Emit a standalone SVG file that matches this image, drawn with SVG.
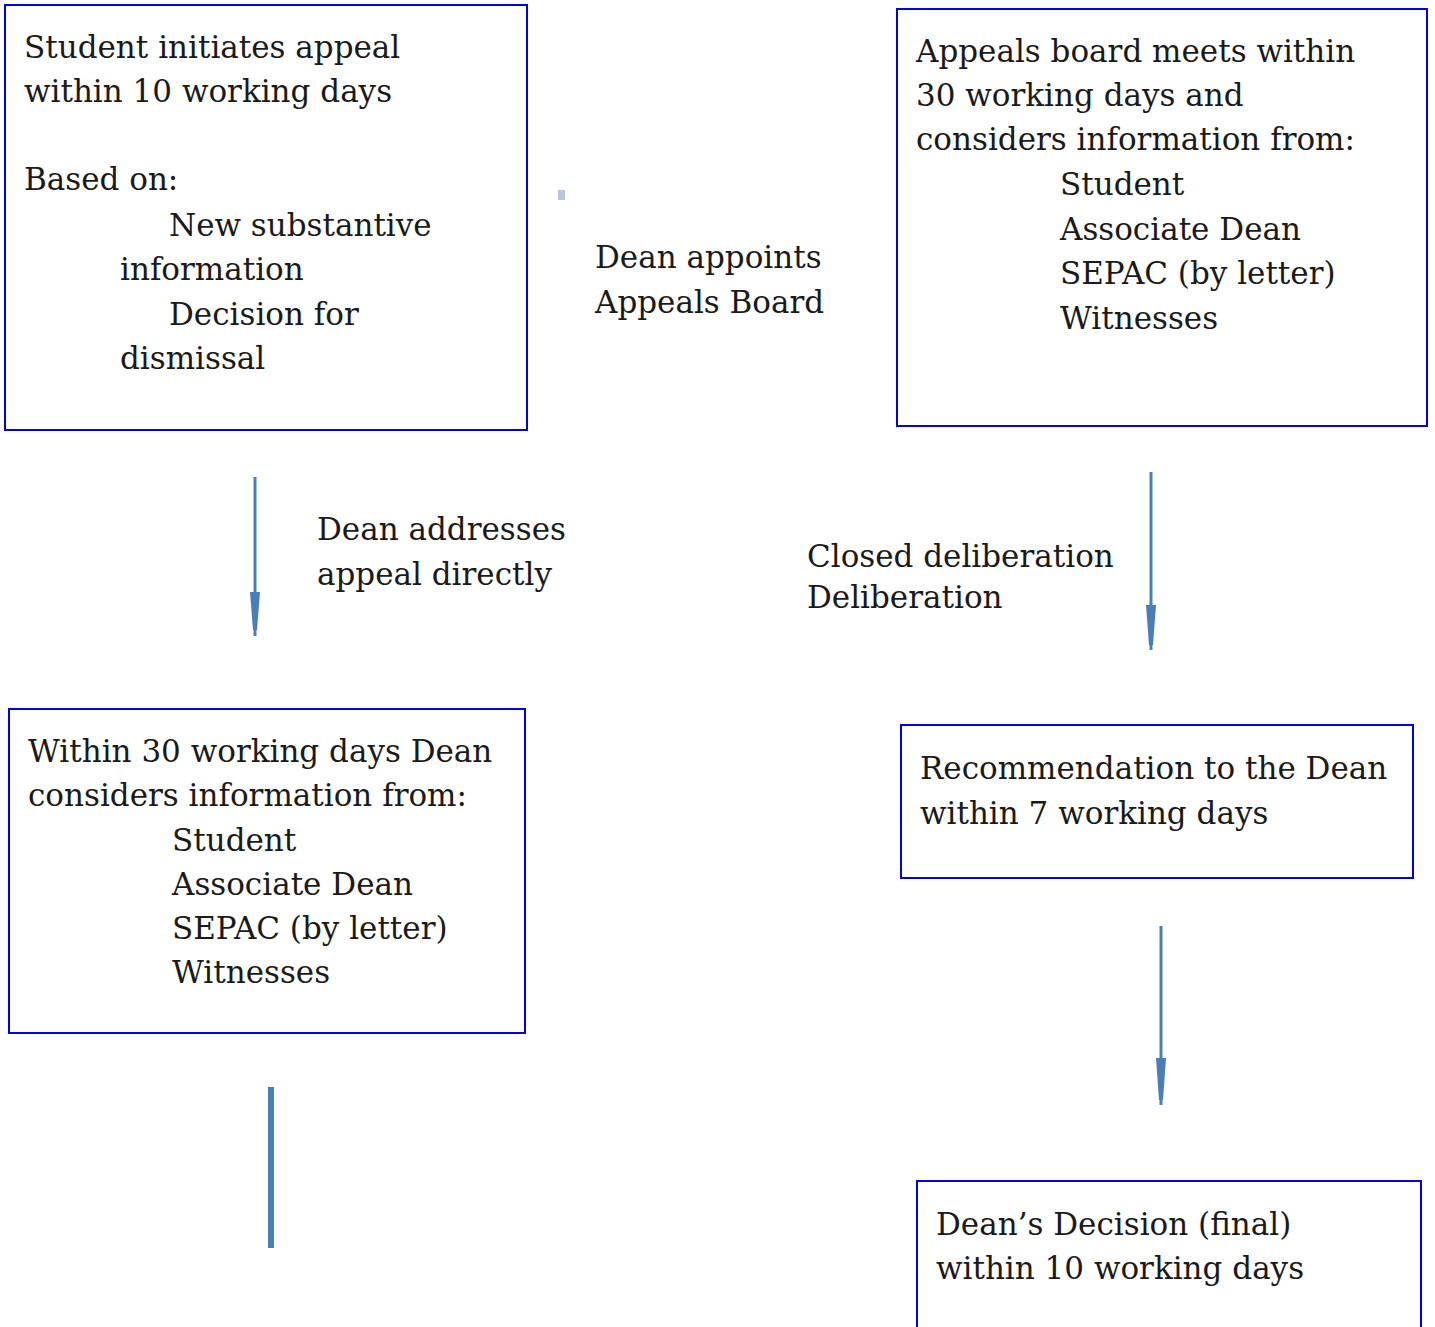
<svg xmlns="http://www.w3.org/2000/svg" width="1435" height="1327" viewBox="0 0 1435 1327">
<style>
.box{fill:#fff;stroke:#0000ee;stroke-width:2}
text{font-family:"DejaVu Serif","Liberation Serif",serif;font-size:31px;fill:#1a1a1a}
.ln{stroke:#4a7ebb;stroke-width:3;fill:none}
.hd{fill:#4a7ebb}
</style>
<rect width="1435" height="1327" fill="#fff"/>
<g id="node-initiate">
<rect class="box" x="5" y="5" width="522" height="425"/>
<text x="24" y="58">Student initiates appeal</text>
<text x="24" y="102">within 10 working days</text>
<text x="24" y="190">Based on:</text>
<text x="169" y="236">New substantive</text>
<text x="120" y="280">information</text>
<text x="169" y="325">Decision for</text>
<text x="120" y="369">dismissal</text>
</g>
<g id="node-board">
<rect class="box" x="897" y="9" width="530" height="417"/>
<text x="916" y="62">Appeals board meets within</text>
<text x="916" y="106">30 working days and</text>
<text x="916" y="150">considers information from:</text>
<text x="1060" y="195">Student</text>
<text x="1060" y="240">Associate Dean</text>
<text x="1060" y="284">SEPAC (by letter)</text>
<text x="1060" y="329">Witnesses</text>
</g>
<g id="node-dean-considers">
<rect class="box" x="9" y="709" width="516" height="324"/>
<text x="28" y="762">Within 30 working days Dean</text>
<text x="28" y="806">considers information from:</text>
<text x="172" y="851">Student</text>
<text x="172" y="895">Associate Dean</text>
<text x="172" y="939">SEPAC (by letter)</text>
<text x="172" y="983">Witnesses</text>
</g>
<g id="node-recommendation">
<rect class="box" x="901" y="725" width="512" height="153"/>
<text x="920" y="779">Recommendation to the Dean</text>
<text x="920" y="824">within 7 working days</text>
</g>
<g id="node-decision">
<rect class="box" x="917" y="1181" width="504" height="150"/>
<text x="936" y="1235">Dean’s Decision (final)</text>
<text x="936" y="1279">within 10 working days</text>
</g>
<g id="connectors">
<rect x="558" y="190" width="7" height="10" fill="#b7c7dc"/>
<text x="595" y="268">Dean appoints</text>
<text x="595" y="313">Appeals Board</text>
<line class="ln" x1="255" y1="477" x2="255" y2="636"/>
<polygon class="hd" points="250,592 260,592 257,630 253,630"/>
<text x="317" y="540">Dean addresses</text>
<text x="317" y="585">appeal directly</text>
<line class="ln" x1="1151" y1="472" x2="1151" y2="650"/>
<polygon class="hd" points="1146,605 1156,605 1153,645 1149,645"/>
<text x="807" y="567">Closed deliberation</text>
<text x="807" y="608">Deliberation</text>
<line class="ln" x1="1161" y1="926" x2="1161" y2="1105"/>
<polygon class="hd" points="1156,1058 1166,1058 1163,1100 1159,1100"/>
<line x1="271" y1="1087" x2="271" y2="1248" stroke="#4a7ebb" stroke-width="6"/>
</g>
</svg>
